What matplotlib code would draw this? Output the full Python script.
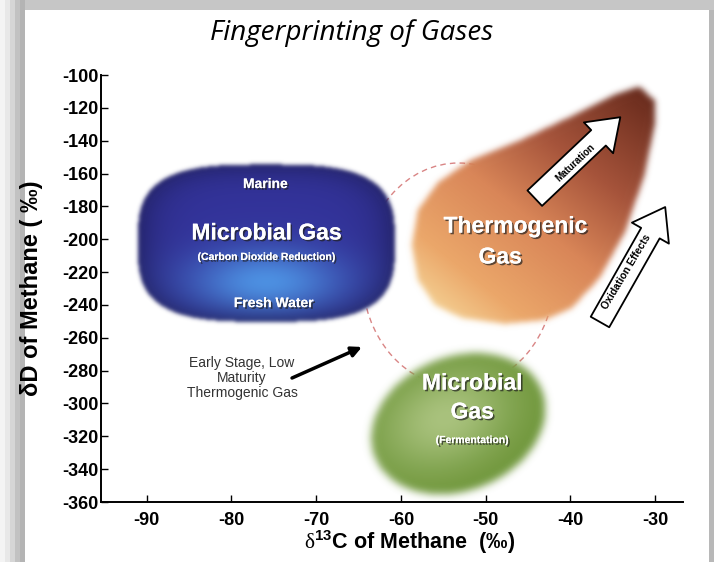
import numpy as np
import matplotlib
matplotlib.use("Agg")
import matplotlib.pyplot as plt
from matplotlib.path import Path
from matplotlib.patches import Ellipse, Rectangle
from matplotlib.colors import to_rgb
import matplotlib.patheffects as pe

# axis values
x_ticks = [-90, -80, -70, -60, -50, -40, -30]
y_ticks = [-100, -120, -140, -160, -180, -200, -220, -240, -260, -280, -300, -320, -340, -360]
x_lim = [-95.4, -26.7]
y_lim = [-360, -100]

# field outlines (delta13C, deltaD)
co2_center = [-75.9, -202.3]
co2_half = [15.2, 48.0]
ferm_center = [-53.2, -312.5]
thermo_x = [-31.8, -30.0, -30.0, -31.2, -33.5, -36.5, -39.8, -43.0, -47.7, -52.8,
            -56.0, -58.0, -58.7, -58.0, -55.6, -51.8, -45.9, -39.4, -34.7]
thermo_y = [-106.7, -115.2, -130.5, -160.9, -195.6, -223.6, -241.9, -249.2, -251.6, -248.0,
            -240.1, -224.8, -203.5, -182.2, -165.2, -151.8, -139.6, -123.8, -111.6]
early_center = [-53.2, -221.8]
early_size = [22.7, 136.4]

# arrows: (tail, head)
early_arrow = [(-72.85, -284.5), (-64.6, -265.6)]
maturation_arrow = [(-44.2, -175.0), (-34.1, -125.7)]
oxidation_arrow = [(-36.5, -250.4), (-28.8, -180.4)]

plt.rcParams['font.family'] = ['Liberation Sans', 'DejaVu Sans']
plt.rcParams['mathtext.fontset'] = 'custom'
plt.rcParams['mathtext.bf'] = 'Liberation Sans:bold'
plt.rcParams['mathtext.rm'] = 'Liberation Serif'

fig = plt.figure(figsize=(7.14, 5.62), dpi=100)
ax = fig.add_axes([101 / 714, 1 - 502 / 562, 582 / 714, 427 / 562])
ax.set_xlim(x_lim)
ax.set_ylim(y_lim)

# pixel grid in data space
nx, ny = 582, 427
sx = nx / (x_lim[1] - x_lim[0])
sy = ny / (y_lim[1] - y_lim[0])
X, Y = np.meshgrid(np.linspace(x_lim[0], x_lim[1], nx), np.linspace(y_lim[0], y_lim[1], ny))


def blur(a, s):
    r = np.arange(-3 * s, 3 * s + 1)
    k = np.exp(-0.5 * (r / s) ** 2)
    k /= k.sum()
    a = np.apply_along_axis(lambda v: np.convolve(v, k, mode='same'), 0, a)
    a = np.apply_along_axis(lambda v: np.convolve(v, k, mode='same'), 1, a)
    return a


def mix(c1, c2, w):
    c1 = np.array(to_rgb(c1))
    c2 = np.array(to_rgb(c2))
    return c1 * (1 - w[..., None]) + c2 * w[..., None]


def show(rgb, alpha, z):
    img = np.dstack([np.clip(rgb, 0, 1), np.clip(alpha, 0, 1)])
    ax.imshow(img, extent=[x_lim[0], x_lim[1], y_lim[0], y_lim[1]], origin='lower',
              aspect='auto', zorder=z, interpolation='bilinear')


# dashed early-stage thermogenic field
ax.add_patch(Ellipse(early_center, early_size[0], early_size[1], fill=False,
                     ec='#d98585', lw=1.0, ls=(0, (4, 3)), zorder=1))

# microbial gas (CO2 reduction)
u = (X - co2_center[0]) / co2_half[0]
v = (Y - co2_center[1]) / co2_half[1]
f = (np.abs(u) ** 3.2 + np.abs(v) ** 3.2) ** (1 / 3.2)
mask = blur((f <= 1).astype(float), 2)
w = np.exp(-(u ** 2 / 0.35 + (v + 0.5) ** 2 / 0.18))
rgb = mix('#33339a', '#4d90e2', np.clip(w, 0, 1))
rgb = rgb * (1 - 0.3 * np.clip(f, 0, 1) ** 6)[..., None]
show(rgb, mask, 2)

# thermogenic gas
verts = np.column_stack([thermo_x, thermo_y])
inside = Path(verts).contains_points(np.column_stack([X.ravel(), Y.ravel()])).reshape(X.shape)
mask = blur(inside.astype(float), 3)
gx = (X - (-56.5)) * sx
gy = (Y - (-245.0)) * sy
t = np.clip((gx * 0.62 + gy * 0.78) / 300.0, 0, 1)
stops = [0.0, 0.18, 0.45, 0.7, 1.0]
cols = [to_rgb(c) for c in ['#f5d496', '#eba76a', '#d98658', '#a6543b', '#6c2d1e']]
rgb = np.stack([np.interp(t, stops, [c[i] for c in cols]) for i in range(3)], axis=-1)
show(rgb, mask, 2)

# microbial gas (fermentation)
px = (X - ferm_center[0]) * sx
py = (Y - ferm_center[1]) * sy
ang = np.deg2rad(22)
pu = px * np.cos(ang) + py * np.sin(ang)
pv = -px * np.sin(ang) + py * np.cos(ang)
r = np.sqrt((pu / 90) ** 2 + (pv / 67) ** 2)
mask = blur((r <= 1).astype(float), 4)
w = np.exp(-(((pu + 10) / 70) ** 2 + ((pv - 10) / 50) ** 2))
rgb = mix('#6a9335', '#a9c27c', np.clip(w, 0, 1))
show(rgb, mask, 2)

shadow = [pe.withSimplePatchShadow(offset=(1.2, -1.2), shadow_rgbFace='#202020', alpha=0.7), pe.Normal()]
label_kw = dict(color='white', fontweight='bold', ha='center', va='center', zorder=5, path_effects=shadow)
ax.text(-76.0, -166.4, 'Marine', fontsize=10, **label_kw)
ax.text(-75.9, -196.2, 'Microbial Gas', fontsize=16.5, **label_kw)
ax.text(-75.9, -210.8, '(Carbon Dioxide Reduction)', fontsize=7.5, **label_kw)
ax.text(-75.0, -238.9, 'Fresh Water', fontsize=10, **label_kw)
ax.text(-46.5, -192.0, 'Thermogenic', fontsize=16.5, **label_kw)
ax.text(-48.3, -210.8, 'Gas', fontsize=16.5, **label_kw)
ax.text(-51.6, -287.6, 'Microbial', fontsize=16.5, **label_kw)
ax.text(-51.6, -305.2, 'Gas', fontsize=16.5, **label_kw)
ax.text(-51.6, -322.3, '(Fermentation)', fontsize=7.5, **label_kw)

ax.text(-78.75, -284.5, 'Early Stage, Low\nMaturity\nThermogenic Gas', fontsize=10,
        color='#333333', ha='center', va='center', linespacing=1.1, zorder=5)
ax.annotate('', xy=early_arrow[1], xytext=early_arrow[0], zorder=5,
            arrowprops=dict(arrowstyle='-|>,head_length=0.6,head_width=0.3', color='black',
                            lw=2.5, shrinkA=0, shrinkB=0))

block = 'simple,head_length=1.2,head_width=1.7,tail_width=0.85'
for (tail, head), label, pos, rot, fs in [
        (maturation_arrow, 'Maturation', (-39.4, -153.6), 43.5, 7),
        (oxidation_arrow, 'Oxidation Effects', (-33.4, -220.0), 59, 7.5)]:
    ax.annotate('', xy=head, xytext=tail, zorder=6,
                arrowprops=dict(arrowstyle=block, fc='white', ec='black', lw=1.3,
                                mutation_scale=18, shrinkA=0, shrinkB=0))
    ax.text(pos[0], pos[1], label, fontsize=fs, fontweight='bold', rotation=rot,
            ha='center', va='center', rotation_mode='anchor', zorder=7)

# axes styling
for side in ['top', 'right']:
    ax.spines[side].set_visible(False)
for side in ['left', 'bottom']:
    ax.spines[side].set_linewidth(1.4)
ax.set_xticks(x_ticks)
ax.set_yticks(y_ticks)
ax.set_xticklabels([str(x) for x in x_ticks])
ax.set_yticklabels([str(y) for y in y_ticks])
ax.tick_params(direction='in', length=5, width=1)
ax.tick_params(axis='x', pad=7, labelsize=13)
ax.tick_params(axis='y', pad=2, labelsize=13)
for lab in ax.get_xticklabels() + ax.get_yticklabels():
    lab.set_fontweight('bold')

ax.set_xlabel('$\\mathrm{\\delta}^{\\mathbf{13}}$C of Methane  (‰)', fontsize=15.5, fontweight='bold')
ax.xaxis.set_label_coords(0.53, -0.062)
ax.set_ylabel('δD of Methane ( ‰)', fontsize=17, fontweight='bold')
ax.yaxis.set_label_coords(-0.1, 0.5)

fig.text(0.493, 0.941, 'Fingerprinting of Gases', fontsize=20, style='italic',
         family='Open Sans', ha='center', va='center')

# slide shadow frame
W, H = 714, 562
for i, g in enumerate(['#f4f4f4', '#e8e8e8', '#d6d6d6', '#c2c2c2', '#b4b4b4']):
    fig.add_artist(Rectangle((i * 5 / W, 0), 5 / W, 1, transform=fig.transFigure,
                             color=g, lw=0, zorder=-1))
fig.add_artist(Rectangle((25 / W, 1 - 10 / H), 1, 10 / H, transform=fig.transFigure,
                         color='#c6c6c6', lw=0, zorder=-1))
fig.add_artist(Rectangle((1 - 5 / W, 0), 5 / W, 1 - 10 / H, transform=fig.transFigure,
                         color='#b8b8b8', lw=0, zorder=-1))

fig.savefig('out.png', dpi=100)
